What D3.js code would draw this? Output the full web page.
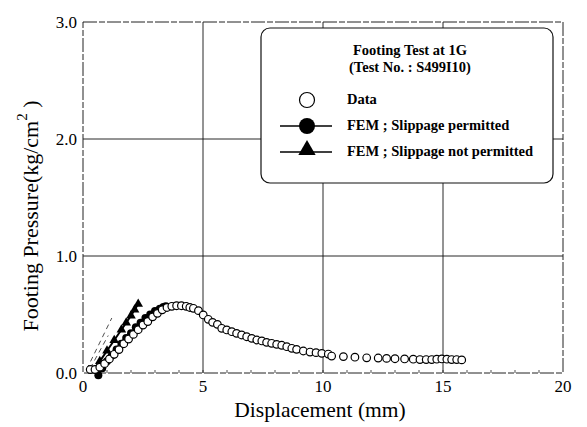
<!DOCTYPE html>
<html>
<head>
<meta charset="utf-8">
<script src="https://cdn.jsdelivr.net/npm/d3@7"></script>
<style>
  body { margin: 0; background: #fff; }
  svg { display: block; font-family: "Liberation Serif", "DejaVu Serif", serif; }
</style>
</head>
<body>
<svg width="587" height="427"></svg>
<script>
// measured data (displacement mm, pressure kg/cm2)
const dataX = [0.3, 0.5, 0.7, 0.9, 1.1, 1.3, 1.5, 1.7, 1.9, 2.1, 2.3, 2.5, 2.7, 2.9, 3.1, 3.3, 3.5, 3.7, 3.9, 4.1, 4.3, 4.45,
  4.6, 4.81, 5.01, 5.22, 5.4, 5.6, 5.78, 5.99, 6.2, 6.4, 6.61, 6.82, 7.03, 7.24, 7.45, 7.65, 7.86, 8.07, 8.28, 8.49, 8.7, 8.9, 9.18, 9.46, 9.71, 9.95, 10.22,
  10.36, 10.85, 11.33, 11.82, 12.3, 12.65, 13.0, 13.4, 13.76, 14.04, 14.3, 14.53, 14.74, 14.95, 15.16, 15.36, 15.57, 15.78];
const dataY = [0.03, 0.03, 0.05, 0.08, 0.12, 0.16, 0.2, 0.25, 0.29, 0.33, 0.37, 0.41, 0.44, 0.48, 0.51, 0.54, 0.56, 0.57, 0.575, 0.575, 0.57, 0.56,
  0.553, 0.533, 0.496, 0.459, 0.433, 0.416, 0.382, 0.368, 0.353, 0.339, 0.325, 0.31, 0.296, 0.282, 0.274, 0.262, 0.254, 0.245, 0.237, 0.225, 0.211, 0.202, 0.188, 0.179, 0.174, 0.168, 0.162,
  0.145, 0.14, 0.135, 0.13, 0.128, 0.125, 0.122, 0.12, 0.118, 0.115, 0.115, 0.115, 0.118, 0.12, 0.118, 0.115, 0.115, 0.112];

// FEM, slippage permitted
const femSlipX = [0.64, 0.8, 1.0, 1.2, 1.4, 1.6, 1.8, 2.0, 2.2, 2.4, 2.6, 2.8, 3.0, 3.2, 3.35, 3.45];
const femSlipY = [-0.02, 0.04, 0.1, 0.15, 0.2, 0.25, 0.3, 0.34, 0.39, 0.43, 0.47, 0.5, 0.53, 0.55, 0.565, 0.57];

// FEM, slippage not permitted
const femNoSlipX = [0.4, 0.7, 1.0, 1.3, 1.6, 1.8, 2.0, 2.15, 2.3];
const femNoSlipY = [0.02, 0.1, 0.19, 0.28, 0.37, 0.43, 0.49, 0.54, 0.59];

// thin dashed lines near the origin
const dashA = [[0.15, 0.03], [1.2, 0.47]];
const dashB = [[0.3, 0.04], [1.05, 0.32]];

const xTicks = [0, 5, 10, 15, 20];
const yTicks = [0, 1, 2, 3];

const svg = d3.select("svg");
const x = d3.scaleLinear().domain([0, 20]).range([83, 563]);
const y = d3.scaleLinear().domain([0, 3]).range([373, 22]);

// grid
svg.append("g").selectAll("line").data([5, 10, 15]).join("line")
  .attr("x1", d => x(d)).attr("x2", d => x(d))
  .attr("y1", y(3)).attr("y2", y(0))
  .attr("stroke", "#111").attr("stroke-width", 0.9);
svg.append("g").selectAll("line").data([1, 2]).join("line")
  .attr("x1", x(0)).attr("x2", x(20))
  .attr("y1", d => y(d)).attr("y2", d => y(d))
  .attr("stroke", "#111").attr("stroke-width", 0.9);

// frame
svg.append("rect")
  .attr("x", x(0)).attr("y", y(3))
  .attr("width", x(20) - x(0)).attr("height", y(0) - y(3))
  .attr("fill", "none").attr("stroke", "#222").attr("stroke-width", 1)
  .attr("stroke-dasharray", "14 2 6 2");

// minor ticks on bottom axis
svg.append("g").selectAll("line").data(d3.range(1, 20)).join("line")
  .attr("x1", d => x(d)).attr("x2", d => x(d))
  .attr("y1", y(0)).attr("y2", y(0) - 3)
  .attr("stroke", "#222").attr("stroke-width", 0.8);

// tick labels
svg.append("g").selectAll("text").data(xTicks).join("text")
  .attr("x", d => x(d)).attr("y", 392)
  .attr("text-anchor", "middle").attr("font-size", 17)
  .text(d => d);
svg.append("g").selectAll("text").data(yTicks).join("text")
  .attr("x", 77).attr("y", d => y(d) + 6)
  .attr("text-anchor", "end").attr("font-size", 17)
  .text(d => d.toFixed(1));

// axis titles
svg.append("text")
  .attr("x", 320).attr("y", 417)
  .attr("text-anchor", "middle").attr("font-size", 21.5)
  .text("Displacement (mm)");
const yl = svg.append("text")
  .attr("transform", "translate(38,216) rotate(-90)")
  .attr("text-anchor", "middle").attr("font-size", 22);
yl.append("tspan").text("Footing Pressure(kg/cm");
yl.append("tspan").attr("dy", -11).attr("font-size", 15).text("2");
yl.append("tspan").attr("dy", 11).text(" )");

// dashed guide lines
const line = d3.line().x(d => x(d[0])).y(d => y(d[1]));
[dashA, dashB].forEach(p => {
  svg.append("path").attr("d", line(p))
    .attr("fill", "none").attr("stroke", "#222").attr("stroke-width", 0.8)
    .attr("stroke-dasharray", "5 4");
});

// FEM no slip line + triangles
const noSlip = femNoSlipX.map((v, i) => [v, femNoSlipY[i]]);
svg.append("path").attr("d", line(noSlip))
  .attr("fill", "none").attr("stroke", "#000").attr("stroke-width", 2);
svg.append("g").selectAll("path").data(noSlip).join("path")
  .attr("transform", d => `translate(${x(d[0])},${y(d[1])})`)
  .attr("d", d3.symbol(d3.symbolTriangle, 40))
  .attr("fill", "#000");

// FEM slip line + filled circles
const slip = femSlipX.map((v, i) => [v, femSlipY[i]]);
svg.append("path").attr("d", line(slip))
  .attr("fill", "none").attr("stroke", "#000").attr("stroke-width", 2);
svg.append("g").selectAll("circle").data(slip).join("circle")
  .attr("cx", d => x(d[0])).attr("cy", d => y(d[1])).attr("r", 4)
  .attr("fill", "#000");

// test data open circles
const pts = dataX.map((v, i) => [v, dataY[i]]);
svg.append("g").selectAll("circle").data(pts).join("circle")
  .attr("cx", d => x(d[0])).attr("cy", d => y(d[1])).attr("r", 3.8)
  .attr("fill", "#fff").attr("stroke", "#000").attr("stroke-width", 1.2);

// legend
const lg = svg.append("g");
lg.append("rect")
  .attr("x", 261).attr("y", 28).attr("width", 292).attr("height", 155)
  .attr("rx", 9).attr("fill", "#fff").attr("stroke", "#111").attr("stroke-width", 1.2);
lg.append("text").attr("x", 410).attr("y", 55).attr("text-anchor", "middle")
  .attr("font-size", 14.5).attr("font-weight", "bold").text("Footing Test at 1G");
lg.append("text").attr("x", 410).attr("y", 72).attr("text-anchor", "middle")
  .attr("font-size", 14.5).attr("font-weight", "bold").text("(Test No. : S499I10)");

const legendItems = ["Data", "FEM ; Slippage permitted", "FEM ; Slippage not permitted"];
const symY = [100, 126, 152];
const txtY = [104, 130, 156];
legendItems.forEach((t, i) => {
  const ly = symY[i];
  if (i > 0) {
    lg.append("line").attr("x1", 280).attr("x2", 332).attr("y1", ly).attr("y2", ly)
      .attr("stroke", "#000").attr("stroke-width", 1.3);
  }
  if (i === 0) {
    lg.append("circle").attr("cx", 307).attr("cy", ly).attr("r", 7.5)
      .attr("fill", "#fff").attr("stroke", "#000").attr("stroke-width", 1.2);
  } else if (i === 1) {
    lg.append("circle").attr("cx", 307).attr("cy", ly).attr("r", 8).attr("fill", "#000");
  } else {
    lg.append("path").attr("transform", `translate(307,${ly - 2})`)
      .attr("d", d3.symbol(d3.symbolTriangle, 130)).attr("fill", "#000");
  }
  lg.append("text").attr("x", 347).attr("y", txtY[i])
    .attr("font-size", 14.5).attr("font-weight", "bold").text(t);
});
</script>
</body>
</html>
